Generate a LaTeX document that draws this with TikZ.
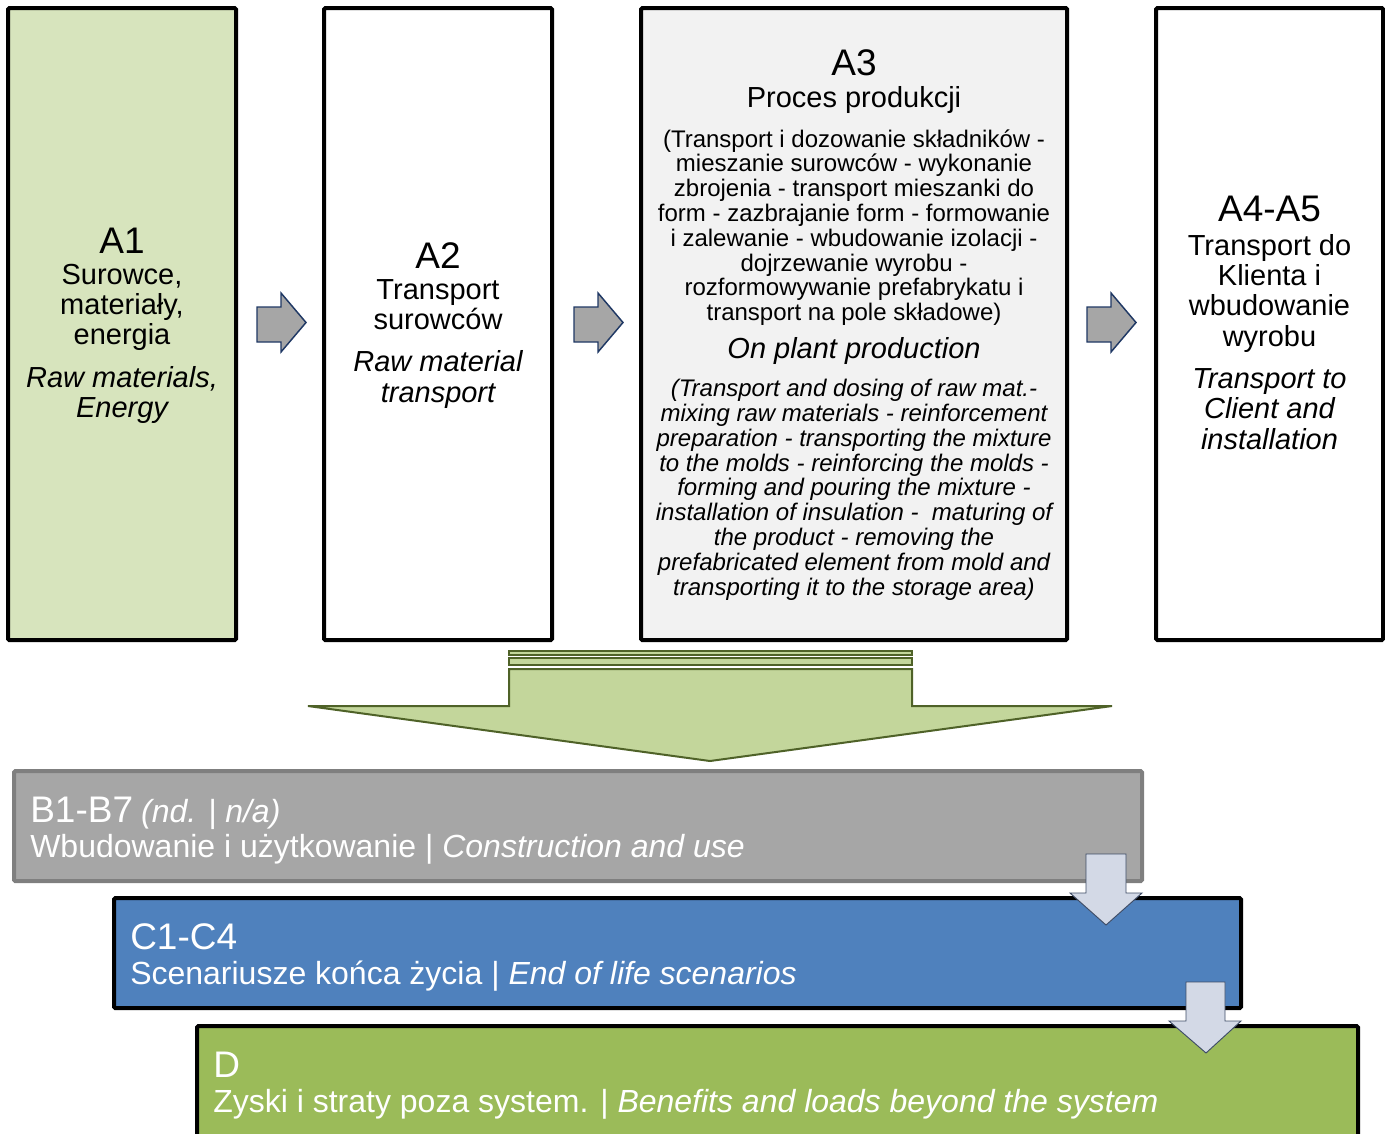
\documentclass[tikz,border=0pt]{standalone}
\usepackage{fontspec}
\setmainfont{Liberation Sans}
\definecolor{agreen}{HTML}{D7E4BD}
\definecolor{agray}{HTML}{F2F2F2}
\definecolor{arrgray}{HTML}{A6A6A6}
\definecolor{navy}{HTML}{1F3864}
\definecolor{bigfill}{HTML}{C3D69B}
\definecolor{bigdraw}{HTML}{4F6228}
\definecolor{bfill}{HTML}{A6A6A6}
\definecolor{bdraw}{HTML}{7F7F7F}
\definecolor{cfill}{HTML}{4F81BD}
\definecolor{dfill}{HTML}{9BBB59}
\definecolor{lblue}{HTML}{D3D9E6}
\definecolor{slate}{HTML}{3E4C66}
\tikzset{
 abox/.style={draw=black, line width=3pt, rounded corners=1pt, inner sep=0pt, minimum height=474pt},
 ttl/.style={font=\fontsize{27.75}{30}\selectfont, anchor=base, inner sep=0pt},
 bdy/.style={font=\fontsize{21.75}{24}\selectfont, anchor=base, inner sep=0pt},
 sml/.style={font=\fontsize{18}{20}\selectfont, anchor=base, inner sep=0pt},
 rarrow/.style={fill=arrgray, draw=navy, line width=1.1pt},
 darrow/.style={fill=lblue, draw=slate, line width=0.7pt},
 wtxt/.style={text=white, anchor=base west, inner sep=0pt},
 lbox/.style={line width=3pt, rounded corners=1pt, inner sep=0pt, minimum height=82.5pt},
}
\begin{document}
\begin{tikzpicture}[x=0.75pt,y=-0.75pt]
\useasboundingbox (0,0) rectangle (1385,1133);
\clip (0,0) rectangle (1385,1133);
% top boxes
\node[abox, fill=agreen, minimum width=171pt] (A1) at (122,324) {};
\node[abox, fill=white, minimum width=171pt] (A2) at (438,324) {};
\node[abox, fill=agray, minimum width=319.5pt] (A3) at (854,324) {};
\node[abox, fill=white, minimum width=170.25pt] (A4) at (1269.5,324) {};
% A1 text
\node[ttl] (a1t) at (122,253) {A1};
\node[bdy] (a1b1) at (122,284) {Surowce,};
\node[bdy] (a1b2) at (122,314) {materiały,};
\node[bdy] (a1b3) at (122,344) {energia};
\node[bdy, font=\fontsize{21.75}{24}\selectfont\itshape] (a1e1) at (122,387) {Raw materials,};
\node[bdy, font=\fontsize{21.75}{24}\selectfont\itshape] (a1e2) at (122,417) {Energy};
% A2 text
\node[ttl] (a2t) at (438,268) {A2};
\node[bdy] (a2b1) at (438,299) {Transport};
\node[bdy] (a2b2) at (438,329) {surowców};
\node[bdy, font=\fontsize{21.75}{24}\selectfont\itshape] (a2e1) at (438,371) {Raw material};
\node[bdy, font=\fontsize{21.75}{24}\selectfont\itshape] (a2e2) at (438,402) {transport};
% A3 text
\node[ttl] (a3t) at (854,75) {A3};
\node[bdy] (a3b) at (854,107) {Proces produkcji};
\foreach \t [count=\i] in {{(Transport i dozowanie składników -},{mieszanie surowców - wykonanie},{zbrojenia - transport mieszanki do},{form - zazbrajanie form - formowanie},{i zalewanie - wbudowanie izolacji -},{dojrzewanie wyrobu -},{rozformowywanie prefabrykatu i},{transport na pole składowe)}}
  \node[sml] (a3p\i) at (854,{147+24.8*(\i-1)}) {\t};
\node[bdy, font=\fontsize{21.75}{24}\selectfont\itshape] (a3e) at (854,358) {On plant production};
\foreach \t [count=\i] in {{(Transport and dosing of raw mat.-},{mixing raw materials - reinforcement},{preparation - transporting the mixture},{to the molds - reinforcing the molds -},{forming and pouring the mixture -},{installation of insulation - \ maturing of},{the product - removing the},{prefabricated element from mold and},{transporting it to the storage area)}}
  \node[sml, font=\fontsize{18}{20}\selectfont\itshape] (a3i\i) at (854,{396.7+24.8*(\i-1)}) {\t};
% A4 text
\node[ttl] (a4t) at (1269.5,221) {A4-A5};
\node[bdy] (a4b1) at (1269.5,255) {Transport do};
\node[bdy] (a4b2) at (1269.5,285) {Klienta i};
\node[bdy] (a4b3) at (1269.5,315) {wbudowanie};
\node[bdy] (a4b4) at (1269.5,346) {wyrobu};
\node[bdy, font=\fontsize{21.75}{24}\selectfont\itshape] (a4e1) at (1269.5,388) {Transport to};
\node[bdy, font=\fontsize{21.75}{24}\selectfont\itshape] (a4e2) at (1269.5,418) {Client and};
\node[bdy, font=\fontsize{21.75}{24}\selectfont\itshape] (a4e3) at (1269.5,449) {installation};
% right arrows
\foreach \x in {257,574,1087}
  \draw[rarrow] (\x,307) -- (\x+24,307) -- (\x+24,293) -- (\x+49,322.5) -- (\x+24,352) -- (\x+24,342) -- (\x,342) -- cycle;
% big green arrow
\draw[fill=bigfill, draw=bigdraw, line width=1.5pt] (509,651) rectangle (912,655);
\draw[fill=bigfill, draw=bigdraw, line width=1.5pt] (509,658) rectangle (912,665);
\draw[fill=bigfill, draw=bigdraw, line width=1.5pt, line join=miter] (509,669) -- (912,669) -- (912,706) -- (1112,706) -- (710,761) -- (308,706) -- (509,706) -- cycle;
% bottom boxes
\node[lbox, fill=bfill, draw=bdraw, minimum width=846pt] (B) at (578,826) {};
\node[lbox, fill=cfill, draw=black, minimum width=845.25pt] (C) at (677.5,953) {};
\node[lbox, fill=dfill, draw=black, minimum width=870.75pt, minimum height=93pt] (D) at (777.5,1088) {};
\node[wtxt] (bt) at (30,822) {\fontsize{27.75}{30}\selectfont B1-B7\hspace{6pt}\fontsize{24}{28}\selectfont\itshape (nd. | n/a)};
\node[wtxt, font=\fontsize{24}{28}\selectfont] (bl) at (30,857) {Wbudowanie i użytkowanie | \textit{Construction and use}};
\node[wtxt, font=\fontsize{27.75}{30}\selectfont] (ct) at (130,949) {C1-C4};
\node[wtxt, font=\fontsize{24}{28}\selectfont] (cl) at (130,984) {Scenariusze końca życia | \textit{End of life scenarios}};
\node[wtxt, font=\fontsize{27.75}{30}\selectfont] (dt) at (213,1077) {D};
\node[wtxt, font=\fontsize{24}{28}\selectfont] (dl) at (213,1112) {Zyski i straty poza system. | \textit{Benefits and loads beyond the system}};
% small down arrows
\draw[darrow] (1086,854) -- (1126,854) -- (1126,893) -- (1142,893) -- (1106,925) -- (1070,893) -- (1086,893) -- cycle;
\draw[darrow] (1186,982) -- (1225,982) -- (1225,1021) -- (1241,1021) -- (1206,1053) -- (1169,1021) -- (1186,1021) -- cycle;
\end{tikzpicture}
\end{document}
